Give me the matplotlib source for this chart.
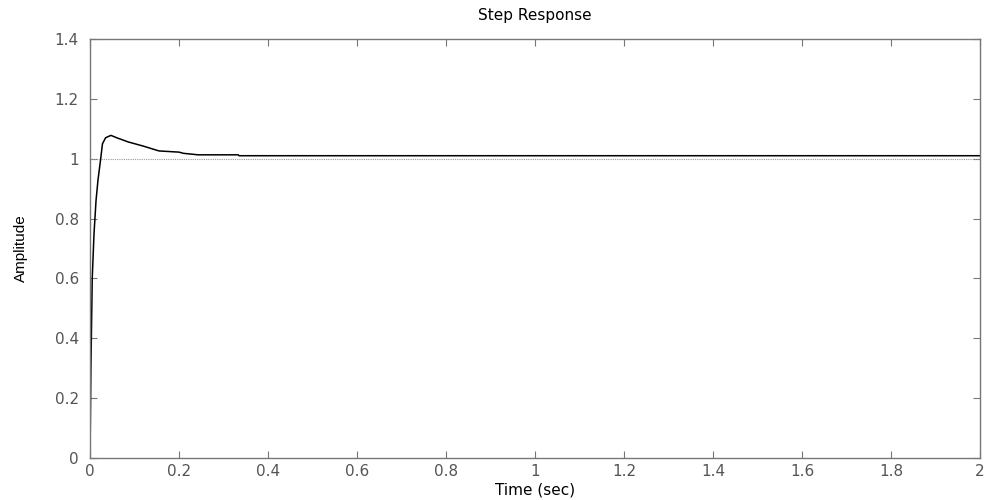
import matplotlib
matplotlib.use('Agg')
from matplotlib import pyplot as plt
import numpy as np

# Step response
t = [0, 0.002, 0.005, 0.009, 0.0135, 0.018, 0.024, 0.028, 0.035, 0.047,
     0.06, 0.086, 0.12, 0.155, 0.20, 0.21, 0.243, 0.333, 0.335, 2.0]
amp = [0, 0.30, 0.60, 0.75, 0.86, 0.93, 1.0, 1.05, 1.07, 1.078,
       1.07, 1.056, 1.042, 1.026, 1.022, 1.018, 1.013, 1.013, 1.01, 1.01]
steady = 1.0

xticks = [0, 0.2, 0.4, 0.6, 0.8, 1, 1.2, 1.4, 1.6, 1.8, 2]
xlabels = ['0', '0.2', '0.4', '0.6', '0.8', '1', '1.2', '1.4', '1.6', '1.8', '2']
yticks = [0, 0.2, 0.4, 0.6, 0.8, 1, 1.2, 1.4]
ylabels = ['0', '0.2', '0.4', '0.6', '0.8', '1', '1.2', '1.4']

plt.rcParams['font.family'] = ['DejaVu Sans']

fig = plt.figure(figsize=(9.87, 5.0), dpi=100)
ax = fig.add_axes([0.0912, 0.084, 0.9017, 0.838])

ax.axhline(steady, color='#999999', lw=0.8, ls=(0, (1, 1)))
ax.plot(t, amp, color='black', lw=1.1)

ax.set_xlim(0, 2)
ax.set_ylim(0, 1.4)
ax.set_xticks(xticks)
ax.set_xticklabels(xlabels)
ax.set_yticks(yticks)
ax.set_yticklabels(ylabels)
ax.tick_params(direction='in', length=5, width=0.8, colors='#777777',
               labelcolor='#555555', labelsize=11, top=True, right=True)
ax.tick_params(axis='y', pad=8)
ax.tick_params(axis='x', pad=4)
for s in ax.spines.values():
    s.set_color('#777777')
    s.set_linewidth(1.0)

ax.set_title('Step Response', fontsize=11, pad=14)
ax.set_xlabel('Time (sec)', fontsize=11, labelpad=3)
ax.set_ylabel('Amplitude', fontsize=11, labelpad=19,
              family='Liberation Sans')

fig.savefig('out.png', dpi=100)
